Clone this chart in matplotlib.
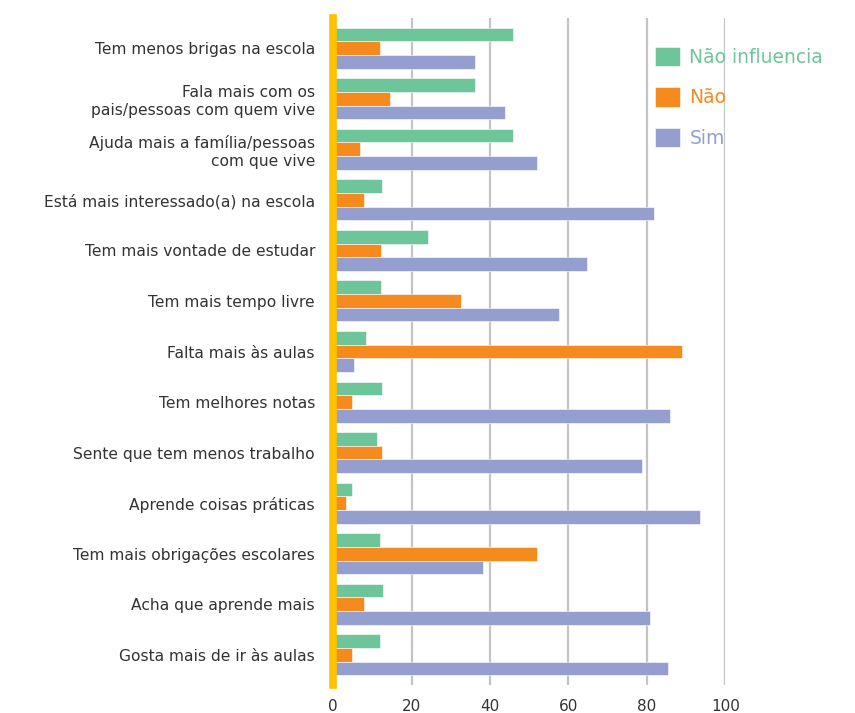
import matplotlib.pyplot as plt
import numpy as np

# categorias (de cima para baixo)
categorias = [
    "Tem menos brigas na escola",
    "Fala mais com os\npais/pessoas com quem vive",
    "Ajuda mais a família/pessoas\ncom que vive",
    "Está mais interessado(a) na escola",
    "Tem mais vontade de estudar",
    "Tem mais tempo livre",
    "Falta mais às aulas",
    "Tem melhores notas",
    "Sente que tem menos trabalho",
    "Aprende coisas práticas",
    "Tem mais obrigações escolares",
    "Acha que aprende mais",
    "Gosta mais de ir às aulas",
]
nao_influencia = [45.9, 36.2, 45.9, 12.5, 24.3, 12.3, 8.4, 12.5, 11.1, 4.8, 12.0, 12.8, 12.0]
nao = [12.0, 14.6, 6.9, 8.0, 12.3, 32.5, 89.0, 4.9, 12.5, 3.3, 52.0, 8.0, 4.8]
sim = [36.2, 43.8, 52.1, 81.8, 64.8, 57.7, 5.4, 85.9, 78.8, 93.6, 38.3, 80.8, 85.4]

series = ["Não influencia", "Não", "Sim"]
cores = ["#6EC59A", "#F58A1F", "#949FD0"]

fig = plt.figure(figsize=(8.55, 7.13), dpi=100)
ax = fig.add_axes([0.3895, 0.039, 0.459, 0.936])

y = np.arange(len(categorias))
h = 0.27
for i, (vals, cor, nome) in enumerate(zip([nao_influencia, nao, sim], cores, series)):
    ax.barh(y + (i - 1) * h, vals, height=h, color=cor, label=nome,
            edgecolor="white", linewidth=0.4, zorder=3)

ax.set_xlim(0, 100)
ax.set_ylim(len(categorias) - 0.4, -0.6)
ax.set_xticks(np.arange(0, 101, 20))
ax.set_yticks(y)
ax.set_yticklabels(categorias, fontsize=11.2, color="#333333")
ax.tick_params(axis="both", length=0)
ax.tick_params(axis="y", pad=13)
ax.tick_params(axis="x", pad=10, labelsize=11, labelcolor="#333333")
ax.xaxis.grid(True, color="#C4C4C4", linewidth=1.6, zorder=0)
ax.set_axisbelow(True)

for s in ["top", "right", "bottom"]:
    ax.spines[s].set_visible(False)
ax.spines["left"].set_color("#FFC000")
ax.spines["left"].set_linewidth(5.5)
ax.spines["left"].set_zorder(5)

leg = fig.legend(loc="upper left", bbox_to_anchor=(0.746, 0.958), frameon=False,
                 fontsize=13.5, handlelength=1.35, handleheight=1.2,
                 labelspacing=1.1, handletextpad=0.5, labelcolor=cores)

fig.savefig("out.png", dpi=100)
